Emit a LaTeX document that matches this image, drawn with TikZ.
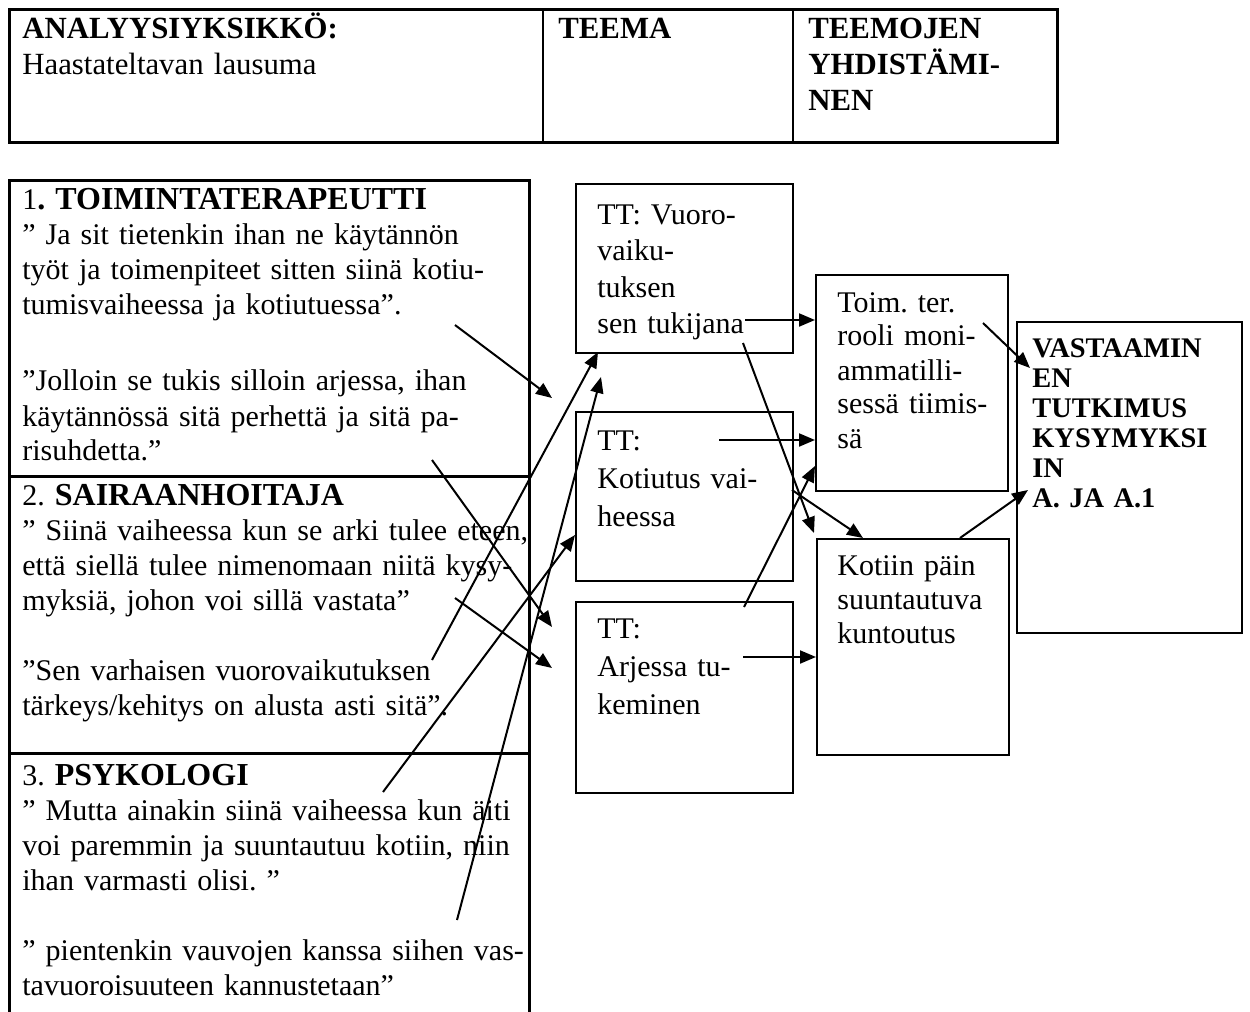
\documentclass[tikz,border=0pt]{standalone}
\usepackage{fontspec}
\setmainfont{Liberation Serif}
\usetikzlibrary{arrows.meta}
\usetikzlibrary{positioning}
\newcommand{\otsikko}[1]{{\fontsize{16}{17.5}\selectfont\bfseries #1}}

\begin{document}
\frenchspacing
\begin{tikzpicture}[x=0.5pt, y=-0.5pt,
    txt/.style={anchor=base west, inner sep=0pt, text width=300pt, align=left, font=\fontsize{15}{#1}\selectfont},
    txt/.default=17.5,
    head/.style={txt, font=\fontsize{15.4}{18}\selectfont\bfseries},
    box/.style={draw, line width=1pt, inner sep=0pt, anchor=north west},
    arr/.style={-{Triangle[length=8pt, width=6.5pt]}, line width=1pt}]

			\useasboundingbox (0,0) rectangle (1250,1012);

			% otsikkotaulukko
			\draw[line width=1.5pt] (9,9) rectangle (1057,142);
			\draw[line width=1pt] (543,9) -- (543,142) (793,9) -- (793,142);
			\node[head] (analyysi) at (22,39) {ANALYYSIYKSIKKÖ:\\\mdseries Haastateltavan lausuma};
			\node[head] (teema) at (558,39) {TEEMA};
			\node[head] (yhdist) at (808,39) {TEEMOJEN\\YHDISTÄMI-\\NEN};

			% lausumat
			\draw[line width=1.5pt] (9,1012) -- (9,180) -- (529,180) -- (529,1012);
			\draw[line width=1.5pt] (9,476) -- (529,476) (9,753) -- (529,753);
			\node[txt] (toimtxt) at (22,209) {1\otsikko{. TOIMINTATERAPEUTTI}\\
				” Ja sit tietenkin ihan ne käytännön\\
				työt ja toimenpiteet sitten siinä kotiu-\\
				tumisvaiheessa ja kotiutuessa”.\\[21pt]
				”Jolloin se tukis silloin arjessa, ihan\\
				käytännössä sitä perhettä ja sitä pa-\\
				risuhdetta.”};
			\node[txt] (sairtxt) at (22,505) {2. \otsikko{SAIRAANHOITAJA}\\
				” Siinä vaiheessa kun se arki tulee eteen,\\
				että siellä tulee nimenomaan niitä kysy-\\
				myksiä, johon voi sillä vastata”\\[17.5pt]
				”Sen varhaisen vuorovaikutuksen\\
				tärkeys/kehitys on alusta asti sitä”.};
			\node[txt] (psyktxt) at (22,785) {3. \otsikko{PSYKOLOGI}\\
				” Mutta ainakin siinä vaiheessa kun äiti\\
				voi paremmin ja suuntautuu kotiin, niin\\
				ihan varmasti olisi. ”\\[17.5pt]
				” pientenkin vauvojen kanssa siihen vas-\\
				tavuoroisuuteen kannustetaan”};

			% teemat
			\node[box, minimum width=108.5pt, minimum height=84.5pt] (vuoro) at (575,183) {};
			\node[box, minimum width=108.5pt, minimum height=84.5pt] (kotiutus) at (575,411) {};
			\node[box, minimum width=108.5pt, minimum height=95.5pt] (arjessa) at (575,601) {};
			\node[txt=18.25] (vuorotxt) at (597,224) {TT: Vuoro-\\vaiku-\\tuksen\\sen tukijana};
			\node[txt=19] (kotiutustxt) at (597,450) {TT:\\Kotiutus vai-\\heessa};
			\node[txt=19] (arjessatxt) at (597,638) {TT:\\Arjessa tu-\\keminen};

			% yhdistetyt
			\node[box, minimum width=96pt, minimum height=108pt] (toim) at (815,274) {};
			\node[box, minimum width=96pt, minimum height=108pt] (kotiin) at (816,538) {};
			\node[txt=17] (toimtxt2) at (837,312) {Toim. ter.\\rooli moni-\\ammatilli-\\sessä tiimis-\\sä};
			\node[txt=17] (kotiintxt) at (837,575) {Kotiin päin\\suuntautuva\\kuntoutus};

			% vastaus
			\node[box, minimum width=112.5pt, minimum height=155.5pt] (vast) at (1016,321) {};
			\node[txt, font=\fontsize{14.2}{15}\selectfont\bfseries] (vasttxt) at (1032,357) {VASTAAMIN\\EN\\TUTKIMUS\\KYSYMYKSI\\IN\\A. JA A.1};

			% nuolet
			\coordinate (from1) at (455,325);  \coordinate (to1) at (552,398);
			\coordinate (from2) at (432,460);  \coordinate (to2) at (552,627);
			\coordinate (from3) at (455,598);  \coordinate (to3) at (552,668);
			\coordinate (from4) at (432,660);  \coordinate (to4) at (598,352);
			\coordinate (from5) at (383,792);  \coordinate (to5) at (575,535);
			\coordinate (from6) at (457,920);  \coordinate (to6) at (601,377);
			\coordinate (from7) at (745,320);
			\coordinate (from8) at (719,440);
			\coordinate (from9) at (743,343);  \coordinate (to9) at (814,533);
			\coordinate (from10) at (792,490); \coordinate (to10) at (863,538);
			\coordinate (from11) at (744,607); \coordinate (to11) at (815,466);
			\coordinate (from12) at (743,657);
			\coordinate (from13) at (983,323); \coordinate (to13) at (1030,368);
			\coordinate (from14) at (960,538); \coordinate (to14) at (1028,490);

			\draw[arr] (from1) -- (to1);
			\draw[arr] (from2) -- (to2);
			\draw[arr] (from3) -- (to3);
			\draw[arr] (from4) -- (to4);
			\draw[arr] (from5) -- (to5);
			\draw[arr] (from6) -- (to6);
			\draw[arr] (from7) -- (from7 -| toim.west);
			\draw[arr] (from8) -- (from8 -| toim.west);
			\draw[arr] (from9) -- (to9);
			\draw[arr] (from10) -- (to10);
			\draw[arr] (from11) -- (to11);
			\draw[arr] (from12) -- (from12 -| kotiin.west);
			\draw[arr] (from13) -- (to13);
			\draw[arr] (from14) -- (to14);
		\end{tikzpicture}
\end{document}
